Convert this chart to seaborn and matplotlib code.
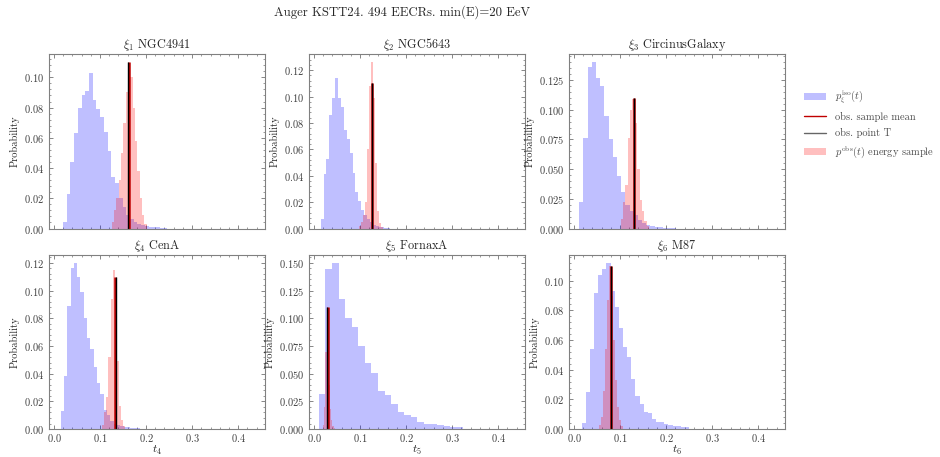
import numpy as np
import pandas as pd
import matplotlib
matplotlib.use("Agg")
import matplotlib.pyplot as plt
import seaborn as sns
from matplotlib.lines import Line2D
from matplotlib.patches import Patch
from matplotlib.ticker import AutoMinorLocator, MaxNLocator

# ---------------- data ----------------
sources = ["NGC4941", "NGC5643", "CircinusGalaxy", "CenA", "FornaxA", "M87"]

# isotropic distributions p_xi^iso(t): first bin edge, bin width, probabilities
iso_start = [0.0194, 0.0144, 0.0114, 0.0144, 0.0107, 0.0166]
iso_width = [0.0081, 0.0063, 0.0091, 0.0072, 0.01427, 0.00898]
iso_p1 = [0.004, 0.023, 0.044, 0.063, 0.080, 0.088, 0.091, 0.103, 0.085, 0.079,
          0.074, 0.064, 0.051, 0.034, 0.030, 0.020, 0.014, 0.009, 0.006, 0.004,
          0.003, 0.002, 0.0015, 0.001, 0.001, 0.0007, 0.0005, 0.0004]
iso_p2 = [0.007, 0.041, 0.053, 0.086, 0.099, 0.114, 0.099, 0.092, 0.075, 0.068,
          0.057, 0.042, 0.028, 0.021, 0.014, 0.010, 0.007, 0.005, 0.003, 0.002,
          0.0015, 0.001, 0.0007, 0.0005]
iso_p3 = [0.022, 0.076, 0.136, 0.140, 0.127, 0.120, 0.095, 0.075, 0.060, 0.044,
          0.031, 0.020, 0.015, 0.011, 0.007, 0.005, 0.003, 0.002, 0.0015, 0.001,
          0.0008, 0.0005, 0.0003]
iso_p4 = [0.013, 0.038, 0.089, 0.116, 0.120, 0.110, 0.099, 0.080, 0.066, 0.058,
          0.045, 0.033, 0.025, 0.014, 0.010, 0.006, 0.004, 0.003, 0.002, 0.0015,
          0.0012, 0.001, 0.0008, 0.0006]
iso_p5 = [0.032, 0.144, 0.150, 0.1175, 0.100, 0.092, 0.075, 0.060, 0.051, 0.034,
          0.031, 0.023, 0.0155, 0.0127, 0.011, 0.006, 0.005, 0.005, 0.004, 0.0027,
          0.002, 0.002]
iso_p6 = [0.004, 0.025, 0.054, 0.092, 0.104, 0.108, 0.112, 0.093, 0.082, 0.068,
          0.055, 0.0485, 0.034, 0.022, 0.017, 0.0117, 0.0106, 0.007, 0.005, 0.0045,
          0.0034, 0.0027, 0.002, 0.002, 0.0016, 0.0016]
iso_probs = [iso_p1, iso_p2, iso_p3, iso_p4, iso_p5, iso_p6]

# observed energy-sample distributions p^obs(t)
obs_start = [0.125, 0.0985, 0.1015, 0.1045, 0.020, 0.0549]
obs_width = [0.0051, 0.0043, 0.0051, 0.0046, 0.0025, 0.00435]
obs_p1 = [0.004, 0.012, 0.020, 0.032, 0.050, 0.070, 0.090, 0.107, 0.100, 0.080,
          0.058, 0.038, 0.020, 0.009, 0.003]
obs_p2 = [0.002, 0.005, 0.010, 0.020, 0.060, 0.108, 0.126, 0.099, 0.050, 0.013,
          0.004, 0.001]
obs_p3 = [0.008, 0.022, 0.037, 0.076, 0.100, 0.109, 0.089, 0.050, 0.024, 0.015,
          0.006, 0.002]
obs_p4 = [0.003, 0.0126, 0.023, 0.052, 0.094, 0.115, 0.101, 0.049, 0.017, 0.0065,
          0.002]
obs_p5 = [0.004, 0.020, 0.070, 0.105, 0.080, 0.040, 0.018, 0.008, 0.003, 0.001]
obs_p6 = [0.003, 0.008, 0.026, 0.054, 0.087, 0.110, 0.090, 0.060, 0.033, 0.015,
          0.006, 0.002]
obs_probs = [obs_p1, obs_p2, obs_p3, obs_p4, obs_p5, obs_p6]

# observed statistics
obs_point_T = [0.161, 0.125, 0.131, 0.134, 0.029, 0.0796]
obs_sample_mean = [0.162, 0.126, 0.131, 0.133, 0.031, 0.0800]
line_height = 0.11

title = "Auger KSTT24. 494 EECRs. min(E)=20 EeV"

# ---------------- style ----------------
sns.set_style("ticks")
plt.rcParams.update({
    "font.family": ["cmr10", "DejaVu Serif"],
    "mathtext.fontset": "cm",
    "axes.formatter.use_mathtext": True,
    "axes.edgecolor": "0.5",
    "axes.linewidth": 0.8,
    "xtick.direction": "in",
    "ytick.direction": "in",
    "xtick.top": True,
    "ytick.right": True,
    "xtick.color": "0.45",
    "ytick.color": "0.45",
    "xtick.labelcolor": "0.25",
    "ytick.labelcolor": "0.25",
    "xtick.labelsize": 7.5,
    "ytick.labelsize": 7.5,
    "xtick.major.pad": 2.0,
    "xtick.minor.pad": 2.0,
    "xtick.major.size": 3.0,
    "ytick.major.size": 3.0,
    "xtick.minor.size": 1.6,
    "ytick.minor.size": 1.6,
    "xtick.major.width": 0.6,
    "ytick.major.width": 0.6,
    "xtick.minor.width": 0.5,
    "ytick.minor.width": 0.5,
})

blue_alpha = 0.25
red_alpha = 0.25


def hist_frame(start, width, probs):
    edges = start + width * np.arange(len(probs) + 1)
    centers = 0.5 * (edges[:-1] + edges[1:])
    return pd.DataFrame({"t": centers, "p": probs}), list(edges)


fig, axes = plt.subplots(2, 3, sharex=True, figsize=(9.4, 4.57), dpi=100)
fig.subplots_adjust(left=0.052, right=0.835, top=0.882, bottom=0.061,
                    wspace=0.204, hspace=0.149)

for i, ax in enumerate(axes.flat):
    df_iso, e_iso = hist_frame(iso_start[i], iso_width[i], iso_probs[i])
    sns.histplot(data=df_iso, x="t", weights="p", bins=e_iso,
                 element="step", fill=True, color="blue", alpha=blue_alpha,
                 linewidth=0, ax=ax)

    df_obs, e_obs = hist_frame(obs_start[i], obs_width[i], obs_probs[i])
    sns.histplot(data=df_obs, x="t", weights="p", bins=e_obs,
                 element="step", fill=True, color="red", alpha=red_alpha,
                 linewidth=0, ax=ax)

    ax.vlines(obs_sample_mean[i], 0, line_height, color="#c00000", lw=1.8)
    ax.vlines(obs_point_T[i], 0, line_height, color="black", lw=1.0)

    ax.set_title(r"$\xi_{%d}$ " % (i + 1) + sources[i], fontsize=8.8, pad=4)
    ax.set_ylabel("Probability", fontsize=7.5, labelpad=3)
    if i >= 3:
        ax.set_xlabel(r"$t_{%d}$" % (i + 1), fontsize=8.5, labelpad=0)
    else:
        ax.set_xlabel("")
    ax.set_xlim(-0.011, 0.458)
    ax.set_xticks([0.0, 0.1, 0.2, 0.3, 0.4])
    ax.yaxis.set_major_locator(MaxNLocator(nbins=7, steps=[1, 2, 2.5, 5, 10]))
    ax.xaxis.set_minor_locator(AutoMinorLocator(5))
    ax.yaxis.set_minor_locator(AutoMinorLocator(5))
    ax.tick_params(which="both", top=True, right=True)

handles = [
    Patch(facecolor="blue", alpha=blue_alpha, edgecolor="none"),
    Line2D([], [], color="#c00000", lw=1.0),
    Line2D([], [], color="0.4", lw=1.0),
    Patch(facecolor="red", alpha=red_alpha, edgecolor="none"),
]
labels = [r"$p^{\rm iso}_{\xi}(t)$", "obs. sample mean", "obs. point T",
          r"$p^{\rm obs}(t)$ energy sample"]
fig.legend(handles, labels, loc="upper left", bbox_to_anchor=(0.851, 0.815),
           frameon=False, fontsize=7.5, borderaxespad=0, labelspacing=0.6,
           handlelength=2.1, handletextpad=0.9, labelcolor="0.3")

fig.text(0.428, 0.974, title, ha="center", va="center", fontsize=9.2)

fig.savefig("out.png", dpi=100)
